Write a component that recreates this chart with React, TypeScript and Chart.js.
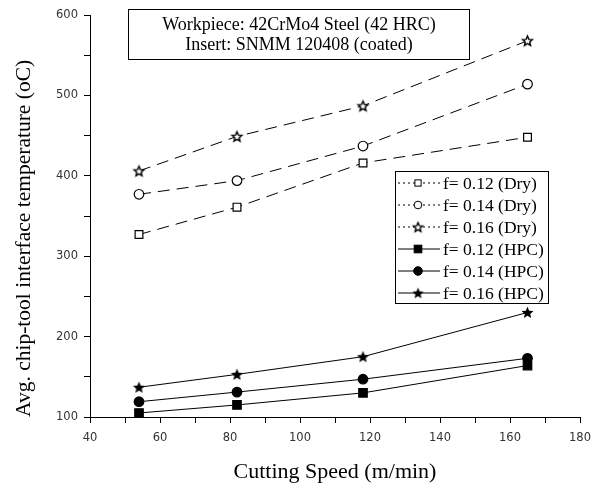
import React, { useEffect, useRef } from "react";
import { Chart, registerables } from "chart.js";

Chart.register(...registerables);

const speeds = [54, 82, 118, 165];
const dry012 = [327, 361, 416, 448];
const dry014 = [377, 394, 437, 514];
const dry016 = [406, 449, 487, 568];
const hpc012 = [105, 115, 130, 164];
const hpc014 = [119, 131, 147, 173];
const hpc016 = [137, 153, 175, 230];
const seriesLabels = [
  "f= 0.12 (Dry)",
  "f= 0.14 (Dry)",
  "f= 0.16 (Dry)",
  "f= 0.12 (HPC)",
  "f= 0.14 (HPC)",
  "f= 0.16 (HPC)",
];
const noteLines = ["Workpiece: 42CrMo4 Steel (42 HRC)", "Insert: SNMM 120408 (coated)"];
const xTitle = "Cutting Speed (m/min)";
const yTitle = "Avg. chip-tool interface temperature (oC)";

function starPath(ctx: CanvasRenderingContext2D, cx: number, cy: number, R: number, r: number) {
  ctx.beginPath();
  for (let i = 0; i < 10; i++) {
    const rad = i % 2 === 0 ? R : r;
    const a = -Math.PI / 2 + (i * Math.PI) / 5;
    const px = cx + rad * Math.cos(a);
    const py = cy + rad * Math.sin(a);
    if (i === 0) ctx.moveTo(px, py);
    else ctx.lineTo(px, py);
  }
  ctx.closePath();
}

function makeStar(filled: boolean, R: number) {
  const c = document.createElement("canvas");
  const s = Math.ceil(R * 2 + 4);
  c.width = s;
  c.height = s;
  const ctx = c.getContext("2d")!;
  starPath(ctx, s / 2, s / 2 + 0.5, R, R * 0.45);
  if (filled) {
    ctx.fillStyle = "#000";
    ctx.fill();
  } else {
    ctx.fillStyle = "#fff";
    ctx.fill();
    ctx.strokeStyle = "#000";
    ctx.lineWidth = 1.4;
    ctx.lineJoin = "miter";
    ctx.stroke();
  }
  return c;
}

export default function App() {
  const ref = useRef<HTMLCanvasElement>(null);
  useEffect(() => {
    const openStar = makeStar(false, 5.2);
    const fullStar = makeStar(true, 6.3);
    const styles: any[] = [
      { style: "rect", r: 5.5, fill: "#fff", dash: [12, 7] },
      { style: "circle", r: 4.8, fill: "#fff", dash: [12, 7] },
      { style: openStar, r: 5, fill: "#fff", dash: [12, 7] },
      { style: "rect", r: 6, fill: "#000", dash: [] },
      { style: "circle", r: 4.8, fill: "#000", dash: [] },
      { style: fullStar, r: 5, fill: "#000", dash: [] },
    ];
    const values = [dry012, dry014, dry016, hpc012, hpc014, hpc016];
    const datasets = values.map((vals, i) => ({
      label: seriesLabels[i],
      data: speeds.map((x, j) => ({ x, y: vals[j] })),
      borderColor: "#000",
      borderWidth: 1,
      borderDash: styles[i].dash,
      pointStyle: styles[i].style,
      pointRadius: styles[i].r,
      pointBackgroundColor: styles[i].fill,
      pointBorderColor: "#000",
      pointBorderWidth: 1.2,
      tension: 0,
      fill: false,
    }));

    const overlay = {
      id: "overlay",
      afterDraw(chart: any) {
        const ctx = chart.ctx as CanvasRenderingContext2D;
        ctx.save();
        // annotation box
        ctx.strokeStyle = "#000";
        ctx.lineWidth = 1;
        ctx.fillStyle = "#fff";
        ctx.fillRect(128.5, 9.5, 341, 50);
        ctx.strokeRect(128.5, 9.5, 341, 50);
        ctx.fillStyle = "#000";
        ctx.font = '18px "Liberation Serif"';
        ctx.textAlign = "center";
        ctx.textBaseline = "middle";
        ctx.fillText(noteLines[0], 299, 25);
        ctx.fillText(noteLines[1], 299, 45);
        // legend
        const lx = 395.5, ly = 171.5, lw = 153, lh = 132;
        ctx.fillStyle = "#fff";
        ctx.fillRect(lx, ly, lw, lh);
        ctx.strokeRect(lx, ly, lw, lh);
        ctx.textAlign = "left";
        ctx.font = '17.5px "Liberation Serif"';
        for (let i = 0; i < 6; i++) {
          const y = 183 + i * 22;
          ctx.beginPath();
          ctx.setLineDash(i < 3 ? [2, 3] : []);
          ctx.moveTo(398, y);
          ctx.lineTo(440, y);
          ctx.strokeStyle = "#000";
          ctx.lineWidth = 1;
          ctx.stroke();
          ctx.setLineDash([]);
          const st = styles[i];
          const cx = 418;
          const r = i < 3 ? st.r * 0.8 : st.r * 0.9;
          if (st.style === "rect") {
            const h = r * Math.SQRT1_2;
            ctx.fillStyle = st.fill;
            ctx.fillRect(cx - h, y - h, 2 * h, 2 * h);
            ctx.strokeRect(cx - h, y - h, 2 * h, 2 * h);
          } else if (st.style === "circle") {
            ctx.beginPath();
            ctx.arc(cx, y, r, 0, Math.PI * 2);
            ctx.fillStyle = st.fill;
            ctx.fill();
            ctx.stroke();
          } else {
            const img = st.style as HTMLCanvasElement;
            const w = img.width * 0.95;
            ctx.drawImage(img, cx - w / 2, y - w / 2, w, w);
          }
          ctx.fillStyle = "#000";
          ctx.fillText(seriesLabels[i], 443, y + 1);
        }
        ctx.restore();
      },
    };

    const tickFont = { family: '"DejaVu Sans"', size: 11.5 };
    const chart = new Chart(ref.current!, {
      type: "line",
      data: { datasets },
      options: {
        animation: false,
        responsive: false,
        layout: { padding: { left: 0, right: 13, top: 15, bottom: 0 } },
        plugins: { legend: { display: false }, tooltip: { enabled: false } },
        scales: {
          x: {
            type: "linear",
            min: 40,
            max: 180,
            afterFit: (s: any) => {
              s.height = 69;
              s.paddingLeft = 0;
              s.paddingRight = 0;
            },
            ticks: {
              stepSize: 10,
              autoSkip: false,
              maxRotation: 0,
              padding: 8,
              color: "#333",
              font: tickFont,
              callback: (v: any) => (v % 20 === 0 ? String(v) : ""),
            },
            grid: { display: true, drawOnChartArea: false, tickLength: 6, tickColor: "#000" },
            border: { display: true, color: "#000", width: 1 },
            title: {
              display: true,
              text: xTitle,
              color: "#000",
              font: { family: '"Liberation Serif"', size: 22 },
              padding: { top: 0, bottom: 1 },
            },
          },
          y: {
            type: "linear",
            min: 100,
            max: 600,
            afterFit: (s: any) => {
              s.width = 90;
              s.paddingTop = 0;
              s.paddingBottom = 0;
            },
            ticks: {
              stepSize: 50,
              autoSkip: false,
              padding: 6,
              color: "#333",
              font: tickFont,
              callback: (v: any) => (v % 100 === 0 ? String(v) : ""),
            },
            grid: { display: true, drawOnChartArea: false, tickLength: 6, tickColor: "#000" },
            border: { display: true, color: "#000", width: 1 },
            title: {
              display: true,
              text: yTitle,
              align: "start",
              color: "#000",
              font: { family: '"Liberation Serif"', size: 21.5 },
              padding: { top: 11, bottom: 0 },
            },
          },
        },
      },
      plugins: [overlay],
    } as any);
    return () => chart.destroy();
  }, []);
  return (
    <div style={{ position: "fixed", left: 0, top: 0, width: 593, height: 486, background: "#fff" }}>
      <canvas ref={ref} width={593} height={486} />
    </div>
  );
}
